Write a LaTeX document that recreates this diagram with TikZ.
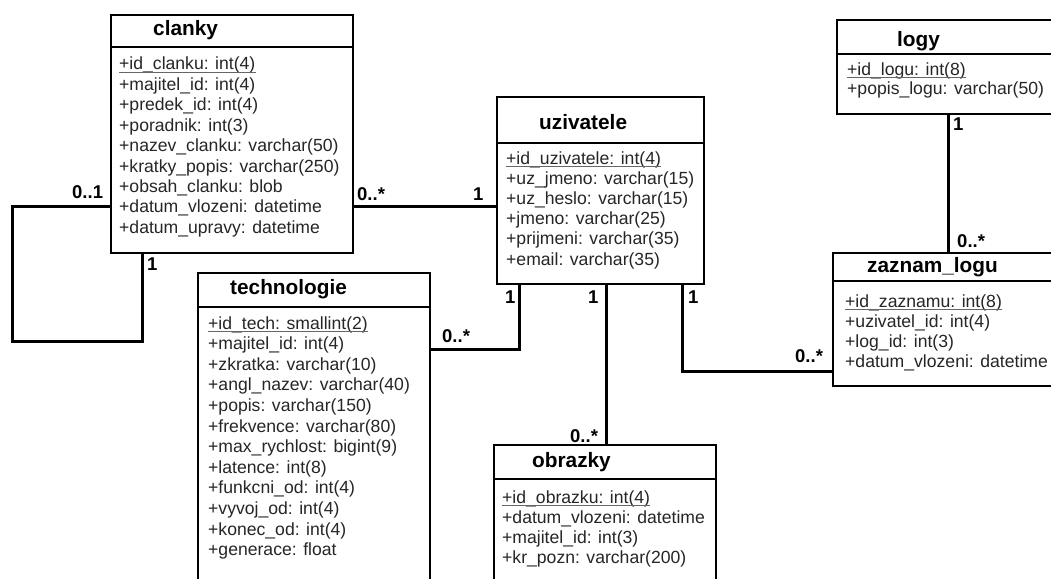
\documentclass[tikz,border=0pt]{standalone}
\usepackage{fontspec}
\setmainfont{Liberation Sans}
\tikzset{
  boxpart/.style={draw, line width=2.3pt, fill=white, inner sep=0pt, anchor=north west},
  conn/.style={line width=3pt},
  attr/.style={anchor=base west, inner sep=0pt, text=black!85, font=\fontsize{17.6}{20}\selectfont},
  ttl/.style={anchor=base west, inner sep=0pt, font=\fontsize{20.8}{22}\selectfont\bfseries},
  mult/.style={anchor=base west, inner sep=0pt, font=\fontsize{18.5}{20}\selectfont\bfseries},
  uline/.style={draw=black!60, line width=0.9pt}
}
% name, left, top, header bottom, bottom, right
\newcommand\umlbox[6]{%
  \node[boxpart, minimum width={(#6-#2)*1pt}, minimum height={(#4-#3)*1pt}] (#1-head) at (#2,#3) {};
  \node[boxpart, minimum width={(#6-#2)*1pt}, minimum height={(#5-#4)*1pt}] (#1-body) at (#2,#4) {};
}
% name, x, first baseline, spacing, list
\newcommand\umlattrs[5]{%
  \foreach \t [count=\i from 0] in {#5} {\node[attr] (#1-a\i) at (#2,{#3+\i*#4}) {\t};}
  \draw[uline] ([yshift=-2.5pt]#1-a0.base west) -- ([yshift=-2.5pt]#1-a0.base east);
}
\begin{document}
\begin{tikzpicture}[x=1pt,y=-1pt]
\useasboundingbox (0,0) rectangle (1051,578);
\clip (0,0) rectangle (1051,578);
\fill[white] (0,0) rectangle (1051,578);

% boxes
\umlbox{clanky}{110}{14}{46}{252}{352}
\node[ttl] (clanky-title) at (153,36) {clanky};
\umlattrs{clanky}{119}{70}{20.4}{+id\_clanku: int(4),+majitel\_id: int(4),+predek\_id: int(4),+poradnik: int(3),+nazev\_clanku: varchar(50),+kratky\_popis: varchar(250),+obsah\_clanku: blob,+datum\_vlozeni: datetime,+datum\_upravy: datetime}

\umlbox{uzivatele}{496}{96}{142}{283}{703}
\node[ttl] (uzivatele-title) at (539,129) {uzivatele};
\umlattrs{uzivatele}{506}{164}{20.2}{+id\_uzivatele: int(4),+uz\_jmeno: varchar(15),+uz\_heslo: varchar(15),+jmeno: varchar(25),+prijmeni: varchar(35),+email: varchar(35)}

\umlbox{technologie}{197}{272}{306}{600}{429}
\node[ttl] (technologie-title) at (230,294) {technologie};
\umlattrs{technologie}{208}{329}{20.6}{+id\_tech: smallint(2),+majitel\_id: int(4),+zkratka: varchar(10),+angl\_nazev: varchar(40),+popis: varchar(150),+frekvence: varchar(80),+max\_rychlost: bigint(9),+latence: int(8),+funkcni\_od: int(4),+vyvoj\_od: int(4),+konec\_od: int(4),+generace: float}

\umlbox{obrazky}{493}{444}{478}{600}{715}
\node[ttl] (obrazky-title) at (532,467) {obrazky};
\umlattrs{obrazky}{502}{503}{20.3}{+id\_obrazku: int(4),+datum\_vlozeni: datetime,+majitel\_id: int(3),+kr\_pozn: varchar(200)}

\umlbox{logy}{836}{19}{53}{113}{1075}
\node[ttl] (logy-title) at (897,46) {logy};
\umlattrs{logy}{847}{75}{19.5}{+id\_logu: int(8),+popis\_logu: varchar(50)}

\umlbox{zaznam}{832}{252}{280}{385}{1075}
\node[ttl] (zaznam-title) at (867,272) {zaznam\_logu};
\umlattrs{zaznam}{845}{307}{20.3}{+id\_zaznamu: int(8),+uzivatel\_id: int(4),+log\_id: int(3),+datum\_vlozeni: datetime}

% connectors
\coordinate (sl1) at (12,206);
\coordinate (sl2) at (12,341);
\coordinate (sl3) at (142,341);
\draw[conn] (clanky-body.west |- sl1) -- (sl1) -- (sl2) -- (sl3) -- (clanky-body.south -| sl3);
\draw[conn] (clanky-body.east |- sl1) -- (uzivatele-body.west |- sl1);
\coordinate (t1) at (519,349);
\draw[conn] (uzivatele-body.south -| t1) -- (t1) -- (technologie-body.east |- t1);
\coordinate (o1) at (606,400);
\draw[conn] (uzivatele-body.south -| o1) -- (obrazky-head.north -| o1);
\coordinate (z1) at (682,371);
\draw[conn] (uzivatele-body.south -| z1) -- (z1) -- (zaznam-body.west |- z1);
\coordinate (g1) at (948,180);
\draw[conn] (logy-body.south -| g1) -- (zaznam-head.north -| g1);

% multiplicities
\node[mult] (m1) at (72,198) {0..1};
\node[mult] (m2) at (147,270) {1};
\node[mult] (m3) at (357,200) {0..*};
\node[mult] (m4) at (473,200) {1};
\node[mult] (m5) at (505,303) {1};
\node[mult] (m6) at (588,303) {1};
\node[mult] (m7) at (688,303) {1};
\node[mult] (m8) at (442,342) {0..*};
\node[mult] (m9) at (570,442) {0..*};
\node[mult] (m10) at (795,362) {0..*};
\node[mult] (m11) at (953,130) {1};
\node[mult] (m12) at (957,247) {0..*};
\end{tikzpicture}
\end{document}
